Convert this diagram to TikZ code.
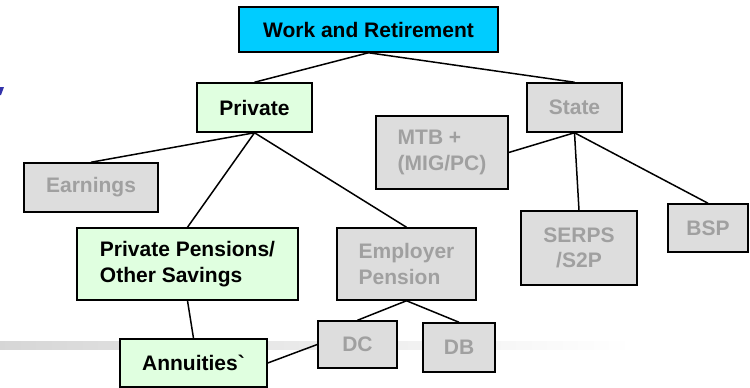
\documentclass[tikz,border=0pt]{standalone}
\usepackage{fontspec}
\setmainfont{Liberation Sans}
\definecolor{cyanbox}{RGB}{0,204,255}
\definecolor{greenbox}{RGB}{224,255,224}
\definecolor{graybox}{RGB}{221,221,221}
\definecolor{graytext}{RGB}{160,160,160}
\definecolor{bluemark}{RGB}{51,51,170}
\begin{document}
\begin{tikzpicture}[x=1pt,y=-1pt,
  box/.style={draw=black,line width=1.5pt,inner sep=0pt,rectangle,
    font=\fontsize{21}{25.5}\selectfont\bfseries},
  topbox/.style={box,fill=cyanbox,text=black},
  grnbox/.style={box,fill=greenbox,text=black},
  gbox/.style={box,fill=graybox,text=graytext},
  conn/.style={draw=black,line width=1.5pt}]
\useasboundingbox (0,0) rectangle (750,388);
% background decorations
\shade[left color=black!16,right color=white,draw=none] (0,341) rectangle (632,349);
\fill[bluemark] (0,87) -- (4,87) -- (1,95) -- (0,95) -- cycle;
% nodes
\node[topbox,minimum width=259pt,minimum height=45pt] (wr) at (368.5,29.5) {Work and Retirement};
\node[grnbox,minimum width=115pt,minimum height=49pt] (priv) at (254.5,107.5) {Private};
\node[gbox,minimum width=95pt,minimum height=49pt] (state) at (574.5,107.5) {State};
\node[gbox,minimum width=132pt,minimum height=73pt,align=left] (mtb) at (442,152.5) {MTB +\\(MIG/PC)};
\node[gbox,minimum width=134pt,minimum height=49pt] (earn) at (91,187.5) {Earnings};
\node[grnbox,minimum width=221pt,minimum height=72pt,align=left] (pp) at (187.5,264) {Private Pensions/\\Other Savings};
\node[gbox,minimum width=139pt,minimum height=72pt,align=left] (ep) at (406.5,264) {Employer\\Pension};
\node[gbox,minimum width=116pt,minimum height=74pt,align=center] (serps) at (579,248) {SERPS\\/S2P};
\node[gbox,minimum width=80pt,minimum height=48pt] (bsp) at (708,228) {BSP};
\node[gbox,minimum width=79pt,minimum height=47pt] (dc) at (357.5,344.5) {DC};
\node[gbox,minimum width=72pt,minimum height=49pt] (db) at (459,347.5) {DB};
\node[grnbox,minimum width=147pt,minimum height=48pt] (ann) at (193.5,363) {Annuities\textasciigrave};
% connectors
\draw[conn] (wr.south) -- (priv.north);
\draw[conn] (wr.south) -- (state.north);
\draw[conn] (priv.south) -- (earn.north);
\draw[conn] (priv.south) -- (pp.north);
\draw[conn] (priv.south) -- (ep.north);
\draw[conn] (state.south) -- (mtb.east);
\draw[conn] (state.south) -- (serps.north);
\draw[conn] (state.south) -- (bsp.north);
\draw[conn] (pp.south) -- (ann.north);
\draw[conn] (ann.east) -- (dc.west);
\draw[conn] (ep.south) -- (dc.north);
\draw[conn] (ep.south) -- (db.north);
\end{tikzpicture}
\end{document}
